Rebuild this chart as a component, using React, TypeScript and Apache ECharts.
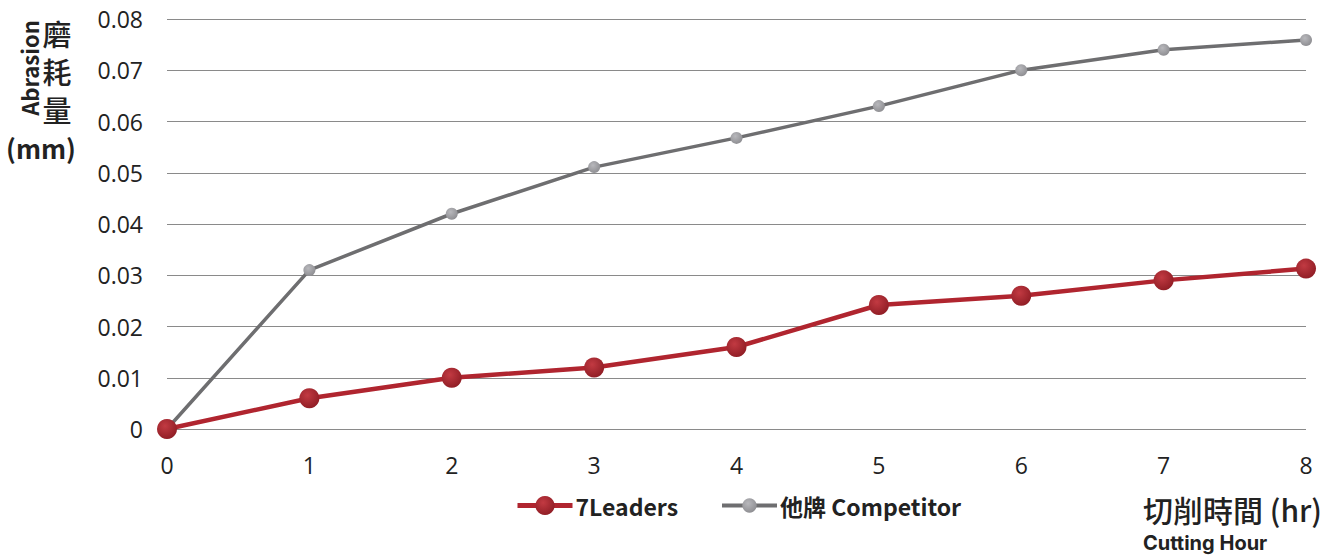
import React, { useEffect, useRef } from "react";
import * as echarts from "echarts";

const hours = [0, 1, 2, 3, 4, 5, 6, 7, 8];
const leaders = [0, 0.006, 0.01, 0.012, 0.016, 0.0242, 0.026, 0.029, 0.0313];
const competitor = [0, 0.031, 0.042, 0.0511, 0.0568, 0.063, 0.07, 0.074, 0.0759];
const yTicks = { min: 0, max: 0.08, interval: 0.01 };
const seriesNames = ["7Leaders", "他牌 Competitor"];

const CJK = '"Noto Sans CJK TC", "Noto Sans", sans-serif';
const LAT = '"Open Sans", "Noto Sans", sans-serif';

const redGrad = new echarts.graphic.RadialGradient(0.4, 0.35, 0.7, [
  { offset: 0, color: "#c23a42" },
  { offset: 1, color: "#8e1c24" },
]);
const greyGrad = new echarts.graphic.RadialGradient(0.4, 0.35, 0.7, [
  { offset: 0, color: "#b8b8bc" },
  { offset: 1, color: "#8c8c90" },
]);

export default function App() {
  const ref = useRef<HTMLDivElement>(null);
  useEffect(() => {
    const chart = echarts.init(ref.current!, null, { renderer: "svg" });
    chart.setOption({
      animation: false,
      backgroundColor: "#ffffff",
      grid: { left: 167, right: 30, top: 19, bottom: 127, containLabel: false },
      xAxis: {
        type: "value",
        min: 0,
        max: 8,
        interval: 1,
        axisLine: { show: false },
        axisTick: { show: false },
        splitLine: { show: false },
        axisLabel: { color: "#222", fontSize: 23, fontFamily: LAT, margin: 24 },
      },
      yAxis: {
        type: "value",
        min: yTicks.min,
        max: yTicks.max,
        interval: yTicks.interval,
        axisLine: { show: false },
        axisTick: { show: false },
        splitLine: { lineStyle: { color: "#8a8a8a", width: 1 } },
        axisLabel: {
          color: "#222",
          fontSize: 23,
          fontFamily: LAT,
          margin: 24,
          formatter: (v: number) => (v === 0 ? "0" : v.toFixed(2)),
        },
      },
      legend: [
        {
          data: [seriesNames[0]],
          left: 515,
          top: 494,
          padding: 0,
          itemWidth: 55,
          itemHeight: 24,
          lineStyle: { width: 5 },
          textStyle: { fontSize: 23, fontWeight: "bold", color: "#222", fontFamily: CJK, padding: [0, 0, 0, -2] },
        },
        {
          data: [seriesNames[1]],
          left: 720,
          top: 494,
          padding: 0,
          itemWidth: 55,
          itemHeight: 18,
          lineStyle: { width: 4 },
          textStyle: { fontSize: 23, fontWeight: "bold", color: "#222", fontFamily: CJK, padding: [0, 0, 0, -2] },
        },
      ],
      series: [
        {
          name: seriesNames[1],
          type: "line",
          data: hours.map((h, i) => [h, competitor[i]]),
          symbol: "circle",
          symbolSize: 12,
          lineStyle: { color: "#6e6e70", width: 3.5 },
          itemStyle: { color: greyGrad },
          z: 2,
        },
        {
          name: seriesNames[0],
          type: "line",
          data: hours.map((h, i) => [h, leaders[i]]),
          symbol: "circle",
          symbolSize: 20,
          lineStyle: { color: "#b0252f", width: 4.5 },
          itemStyle: { color: redGrad },
          z: 3,
        },
      ],
      graphic: [
        {
          type: "text",
          x: 29,
          y: 68,
          rotation: Math.PI / 2,
          style: {
            text: "Abrasion",
            font: `bold 22px ${CJK}`,
            fill: "#222",
            align: "center",
            verticalAlign: "middle",
          },
        },
        ...["磨", "耗", "量"].map((c, i) => ({
          type: "text",
          x: 57,
          y: 33 + i * 38,
          style: {
            text: c,
            font: `500 29px ${CJK}`,
            fill: "#222",
            align: "center",
            verticalAlign: "middle",
          },
        })),
        {
          type: "text",
          x: 41,
          y: 147,
          style: {
            text: "(mm)",
            font: `bold 26px ${CJK}`,
            fill: "#222",
            align: "center",
            verticalAlign: "middle",
          },
        },
        {
          type: "text",
          x: 1143,
          y: 509,
          style: {
            text: "切削時間 (hr)",
            font: `500 30px ${CJK}`,
            fill: "#222",
            align: "left",
            verticalAlign: "middle",
          },
        },
        {
          type: "text",
          x: 1143,
          y: 543,
          style: {
            text: "Cutting Hour",
            font: `bold 20px Inter, sans-serif`,
            fill: "#222",
            align: "left",
            verticalAlign: "middle",
          },
        },
      ],
    });
    return () => chart.dispose();
  }, []);
  return (
    <div
      ref={ref}
      style={{ position: "fixed", left: 0, top: 0, width: 1336, height: 556 }}
    />
  );
}
